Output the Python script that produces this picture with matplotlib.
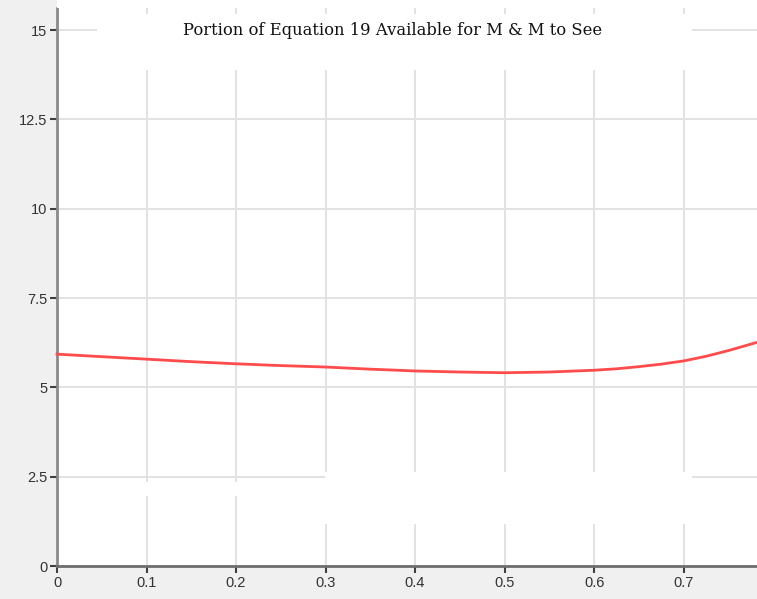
import matplotlib
matplotlib.use("Agg")
import matplotlib.pyplot as plt
from matplotlib.patches import Rectangle
import numpy as np

# Curve samples
x_vals = [0.0, 0.05, 0.1, 0.15, 0.2, 0.25, 0.3, 0.35, 0.4, 0.45, 0.5, 0.55, 0.6,
          0.625, 0.65, 0.675, 0.7, 0.725, 0.75, 0.782]
y_vals = [5.93, 5.86, 5.79, 5.72, 5.66, 5.61, 5.57, 5.51, 5.46, 5.43, 5.41, 5.43, 5.48,
          5.52, 5.58, 5.65, 5.74, 5.87, 6.03, 6.26]

x_ticks = [0, 0.1, 0.2, 0.3, 0.4, 0.5, 0.6, 0.7]
x_tick_labels = ["0", "0.1", "0.2", "0.3", "0.4", "0.5", "0.6", "0.7"]
y_ticks = [0, 2.5, 5, 7.5, 10, 12.5, 15]
y_tick_labels = ["0", "2.5", "5", "7.5", "10", "12.5", "15"]
title = "Portion of Equation 19 Available for M & M to See"

W, H = 757, 599
fig = plt.figure(figsize=(W / 100, H / 100), dpi=100)
fig.patch.set_facecolor("#f0f0f0")

left_px, bottom_px, top_px = 57, 566, 8
ax = fig.add_axes([left_px / W, (H - bottom_px) / H, 1 - left_px / W, (bottom_px - top_px) / H])
ax.set_facecolor("white")

# white strip above the plot region
fig.patches.append(Rectangle((left_px / W, 1 - top_px / H), 1, top_px / H,
                             transform=fig.transFigure, facecolor="white",
                             edgecolor="none", zorder=0))

ax.set_xlim(0, 0.782)
ax.set_ylim(0, 15.62)

ax.set_xticks(x_ticks)
ax.set_xticklabels(x_tick_labels)
ax.set_yticks(y_ticks)
ax.set_yticklabels(y_tick_labels)

ax.grid(True, color="#e2e2e2", linewidth=1.4, zorder=0)
ax.set_axisbelow(True)

for side in ("top", "right"):
    ax.spines[side].set_visible(False)
ax.spines["left"].set_color("#8a8a8a")
ax.spines["left"].set_linewidth(2)
ax.spines["bottom"].set_color("#6e6e6e")
ax.spines["bottom"].set_linewidth(2)

ax.tick_params(axis="both", direction="out", length=5, width=1.5, color="#404040",
               labelsize=10.5, labelcolor="#333333", pad=2)
for lab in ax.get_xticklabels() + ax.get_yticklabels():
    lab.set_fontfamily("Liberation Sans")

# white panels sitting over the grid
for (x0, x1, y0, y1) in [(0.0447, 0.7095, 13.88, 15.45),
                         (0.2994, 0.7095, 1.175, 2.63),
                         (0.0447, 0.2994, 1.96, 2.35)]:
    ax.add_patch(Rectangle((x0, y0), x1 - x0, y1 - y0, facecolor="white",
                           edgecolor="none", zorder=1))

xs = np.array(x_vals)
ys = np.array(y_vals)
ax.plot(xs, ys, color="#ff4b4b", linewidth=2, zorder=3, clip_on=False)

ax.text(0.375, 15.0, title, ha="center", va="center", fontsize=11.8,
        family="DejaVu Serif", color="#111111", zorder=4)

fig.savefig("out.png", dpi=100, facecolor=fig.get_facecolor())
